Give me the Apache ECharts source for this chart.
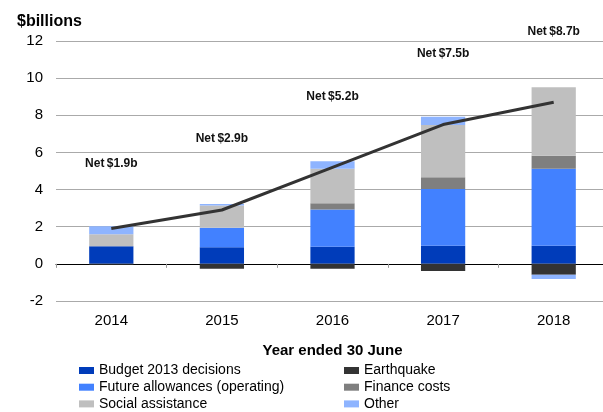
<!DOCTYPE html>
<html>
<head>
<meta charset="utf-8">
<script src="https://cdn.jsdelivr.net/npm/echarts@6/dist/echarts.min.js"></script>
<style>
  html, body { margin: 0; padding: 0; background: #fff; }
  #main { width: 603px; height: 412px; }
</style>
</head>
<body>
<div id="main"></div>
<script>
// chart data ($ billions)
const years = ["2014", "2015", "2016", "2017", "2018"];
const budget2013 = [0.95, 0.9, 0.92, 0.97, 0.97];
const earthquake = [-0.05, -0.27, -0.27, -0.39, -0.59];
const futureAllowances = [0, 1.04, 2.01, 3.06, 4.15];
const financeCosts = [0, 0, 0.33, 0.64, 0.7];
const socialAssistance = [0.65, 1.2, 1.86, 2.81, 3.69];
const other = [0.43, 0.08, 0.4, 0.44, -0.22];
const net = [1.9, 2.9, 5.2, 7.5, 8.7];
const yMin = -2;
const yMax = 12;

const font = "Liberation Sans, Arial, sans-serif";
const myChart = echarts.init(document.getElementById("main"));

const gridTop = 41;
const gridBottom = 111;
// the tick axis sits on the zero line, so shift it up from the grid bottom
const zeroOffset = -(412 - gridTop - gridBottom) * (0 - yMin) / (yMax - yMin);

const barSeries = (name, data, color) => ({
  name: name,
  type: "bar",
  stack: "total",
  barWidth: "40%",
  data: data,
  itemStyle: { color: color },
});

// net labels sit well above the line points
const netData = net.map((v, i) => ({
  value: v,
  label: { distance: i === 0 ? 59 : 65 },
}));

const legendBase = {
  orient: "vertical",
  top: 363,
  padding: 0,
  itemWidth: 15,
  itemHeight: 7,
  itemGap: 1.7,
  icon: "rect",
  textStyle: { fontSize: 14, color: "#000", lineHeight: 15, fontFamily: font },
};

const option = {
  animation: false,
  textStyle: { fontFamily: font },
  title: {
    text: "$billions",
    left: 12,
    top: 9,
    textStyle: { fontSize: 16, fontWeight: "bold", color: "#000", fontFamily: font },
  },
  grid: {
    left: 56,
    right: -6,
    top: gridTop,
    bottom: gridBottom,
    outerBoundsMode: "none",
  },
  legend: [
    Object.assign({}, legendBase, {
      left: 79,
      data: ["Budget 2013 decisions", "Future allowances (operating)", "Social assistance"],
    }),
    Object.assign({}, legendBase, {
      left: 344,
      data: ["Earthquake", "Finance costs", "Other"],
    }),
  ],
  xAxis: [
    {
      type: "category",
      data: years,
      position: "bottom",
      axisLine: { show: false },
      axisTick: { show: false },
      axisLabel: { margin: 12, fontSize: 15, color: "#000" },
      name: "Year ended 30 June",
      nameLocation: "middle",
      nameGap: 42,
      nameTextStyle: { fontSize: 15, fontWeight: "bold", color: "#000" },
    },
    {
      // zero line with the small category ticks
      type: "category",
      data: years,
      position: "bottom",
      offset: zeroOffset,
      axisLine: { show: true, onZero: false, lineStyle: { color: "#000", width: 1 } },
      axisTick: { show: true, length: 4, lineStyle: { color: "#999" } },
      axisLabel: { show: false },
    },
  ],
  yAxis: {
    type: "value",
    min: yMin,
    max: yMax,
    interval: 2,
    axisLine: { show: false },
    axisTick: { show: false },
    axisLabel: { fontSize: 15, color: "#000", margin: 13 },
    splitLine: { lineStyle: { color: "#aaa", width: 1 } },
  },
  series: [
    barSeries("Budget 2013 decisions", budget2013, "#003cba"),
    barSeries("Earthquake", earthquake, "#333333"),
    barSeries("Future allowances (operating)", futureAllowances, "#4281ff"),
    barSeries("Finance costs", financeCosts, "#7f7f7f"),
    barSeries("Social assistance", socialAssistance, "#bfbfbf"),
    barSeries("Other", other, "#8eb4ff"),
    {
      name: "Net",
      type: "line",
      data: netData,
      symbol: "circle",
      symbolSize: 0.1,
      itemStyle: { color: "#333" },
      lineStyle: { color: "#333", width: 3 },
      label: {
        show: true,
        position: "top",
        formatter: "Net\u2009${c}b",
        fontSize: 12,
        fontWeight: "bold",
        color: "#111",
      },
      z: 5,
    },
  ],
};

myChart.setOption(option);
</script>
</body>
</html>
